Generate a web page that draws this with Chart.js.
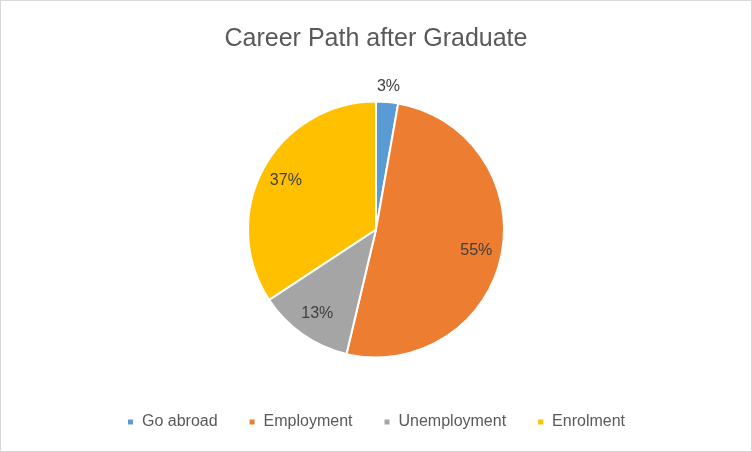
<!DOCTYPE html>
<html>
<head>
<meta charset="utf-8">
<script src="https://cdn.jsdelivr.net/npm/chart.js@4"></script>
<style>
  body { margin: 0; background: #fff; }
  #box { width: 750px; height: 450px; border: 1px solid #d9d9d9; }
</style>
</head>
<body>
<div id="box"><canvas id="career" width="750" height="450"></canvas></div>
<script>
var categories = ['Go abroad', 'Employment', 'Unemployment', 'Enrolment'];
var percents = [3, 55, 13, 37];
var colors = ['#5B9BD5', '#ED7D31', '#A5A5A5', '#FFC000'];

// draw the % labels on each slice (small slices get the label outside)
var sliceLabels = {
  id: 'sliceLabels',
  afterDatasetsDraw: function(chart) {
    var ctx = chart.ctx;
    var meta = chart.getDatasetMeta(0);
    var total = percents.reduce((a, b) => a + b, 0);
    ctx.save();
    ctx.font = '16px "Liberation Sans", Arial, sans-serif';
    ctx.fillStyle = '#404040';
    ctx.textAlign = 'center';
    ctx.textBaseline = 'middle';
    meta.data.forEach(function(arc, i) {
      var p = arc.getProps(['x', 'y', 'startAngle', 'endAngle', 'outerRadius'], true);
      var mid = (p.startAngle + p.endAngle) / 2;
      var f = percents[i] / total < 0.05 ? 1.12 : 0.8;
      var x = p.x + Math.cos(mid) * p.outerRadius * f;
      var y = p.y + Math.sin(mid) * p.outerRadius * f;
      ctx.fillText(percents[i] + '%', x, y);
    });
    ctx.restore();
  }
};

var careerChart = new Chart(document.getElementById('career'), {
  type: 'pie',
  data: {
    labels: categories,
    datasets: [{
      data: percents,
      backgroundColor: colors,
      borderColor: '#fff',
      borderWidth: 2,
      radius: 128
    }]
  },
  options: {
    responsive: false,
    animation: false,
    layout: { padding: { top: 0, bottom: 11 } },
    plugins: {
      title: {
        display: true,
        text: 'Career Path after Graduate',
        color: '#595959',
        font: { family: '"Liberation Sans", Arial, sans-serif', size: 25, weight: 'normal' },
        padding: { top: 23, bottom: 22 }
      },
      legend: {
        position: 'bottom',
        labels: {
          color: '#595959',
          font: { family: '"Liberation Sans", Arial, sans-serif', size: 16 },
          boxWidth: 7,
          boxHeight: 7,
          padding: 31
        }
      },
      tooltip: { enabled: false }
    }
  },
  plugins: [sliceLabels]
});
</script>
</body>
</html>
